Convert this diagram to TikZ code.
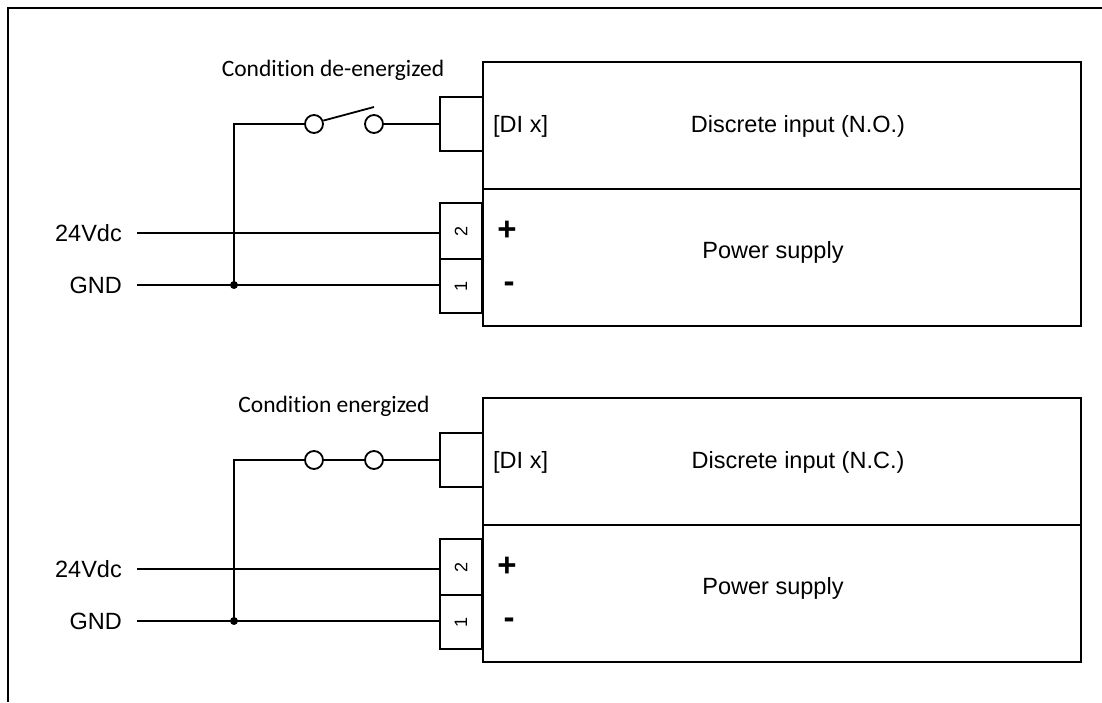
\documentclass[tikz,border=0pt]{standalone}
\usepackage{fontspec}
\setmainfont{Liberation Sans}
\newfontfamily\calfont[Ligatures=NoCommon]{Carlito}
\tikzset{
  wire/.style={line width=1.8pt},
  frame/.style={line width=2.4pt},
  box/.style={draw, line width=1.8pt, inner sep=0pt, outer sep=0pt},
  term/.style={draw, circle, line width=1.8pt, minimum size=18pt, inner sep=0pt, fill=white},
  lbl/.style={font=\fontsize{23.5}{26}\selectfont, inner sep=0pt},
  cond/.style={font=\calfont\fontsize{23.5}{26}\selectfont, inner sep=0pt},
  pin/.style={font=\fontsize{18}{20}\selectfont, rotate=90, inner sep=0pt},
  sign/.style={font=\bfseries\fontsize{33}{36}\selectfont, inner sep=0pt},
  dot/.style={circle, fill=black, minimum size=8pt, inner sep=0pt}
}
\begin{document}
\begin{tikzpicture}[x=1pt,y=-1pt]
\useasboundingbox (0,0) rectangle (1102,702);
\draw[frame] (1102,8) -- (8,8) -- (8,702);

% ---------- upper block (N.O.) ----------
\node[box, minimum width=598pt, minimum height=127pt] (dia) at (782,125.5) {};
\node[box, minimum width=598pt, minimum height=137pt] (psa) at (782,257.5) {};
\node[box, minimum width=43pt, minimum height=54pt] (dixa) at (461.5,124) {};
\node[box, minimum width=42pt, minimum height=56pt] (t2a) at (461,231) {};
\node[box, minimum width=42pt, minimum height=54pt] (t1a) at (461,286) {};
\node[pin] (n2a) at (t2a) {2};
\node[pin] (n1a) at (t1a) {1};
\node[lbl, anchor=base west] (dxa) at (493,132) {[DI x]};
\node[lbl, anchor=base] (dina) at (798,132) {Discrete input (N.O.)};
\node[lbl, anchor=base] (psla) at (773,258) {Power supply};
\node[sign, anchor=base] (pa) at (507,240) {+};
\node[sign, anchor=base] (ma) at (509,292) {-};
\node[cond, anchor=base] (ca) at (333,76) {Condition de-energized};
\node[lbl, anchor=base east] (va) at (122,241) {24Vdc};
\node[lbl, anchor=base east] (ga) at (122,293.5) {GND};
\coordinate (s24a) at (137,233);
\coordinate (sgna) at (137,285);
\coordinate (ka) at (234,124);
\node[term] (c1a) at (314,124) {};
\node[term] (c2a) at (374,124) {};
\coordinate (lva) at (374,107);
\draw[wire] (s24a) -- (s24a -| t2a.west);
\draw[wire] (sgna) -- (sgna -| t1a.west);
\draw[wire] (sgna -| ka) coordinate (ja) -- (ka) -- (c1a.west);
\draw[wire] (c2a.east) -- (dixa.west);
\draw[wire] (c1a.20) -- (lva);
\node[dot] at (ja) {};

% ---------- lower block (N.C.) ----------
\node[box, minimum width=598pt, minimum height=127pt] (dib) at (782,461.5) {};
\node[box, minimum width=598pt, minimum height=137pt] (psb) at (782,593.5) {};
\node[box, minimum width=43pt, minimum height=54pt] (dixb) at (461.5,460) {};
\node[box, minimum width=42pt, minimum height=56pt] (t2b) at (461,567) {};
\node[box, minimum width=42pt, minimum height=54pt] (t1b) at (461,622) {};
\node[pin] (n2b) at (t2b) {2};
\node[pin] (n1b) at (t1b) {1};
\node[lbl, anchor=base west] (dxb) at (493,468) {[DI x]};
\node[lbl, anchor=base] (dinb) at (798,468) {Discrete input (N.C.)};
\node[lbl, anchor=base] (pslb) at (773,594) {Power supply};
\node[sign, anchor=base] (pb) at (507,576) {+};
\node[sign, anchor=base] (mb) at (509,628) {-};
\node[cond, anchor=base] (cb) at (334,412) {Condition energized};
\node[lbl, anchor=base east] (vb) at (122,577) {24Vdc};
\node[lbl, anchor=base east] (gb) at (122,629.5) {GND};
\coordinate (s24b) at (137,569);
\coordinate (sgnb) at (137,621);
\coordinate (kb) at (234,460);
\node[term] (c1b) at (314,460) {};
\node[term] (c2b) at (374,460) {};
\draw[wire] (s24b) -- (s24b -| t2b.west);
\draw[wire] (sgnb) -- (sgnb -| t1b.west);
\draw[wire] (sgnb -| kb) coordinate (jb) -- (kb) -- (c1b.west);
\draw[wire] (c1b.east) -- (c2b.west);
\draw[wire] (c2b.east) -- (dixb.west);
\node[dot] at (jb) {};
\end{tikzpicture}
\end{document}
